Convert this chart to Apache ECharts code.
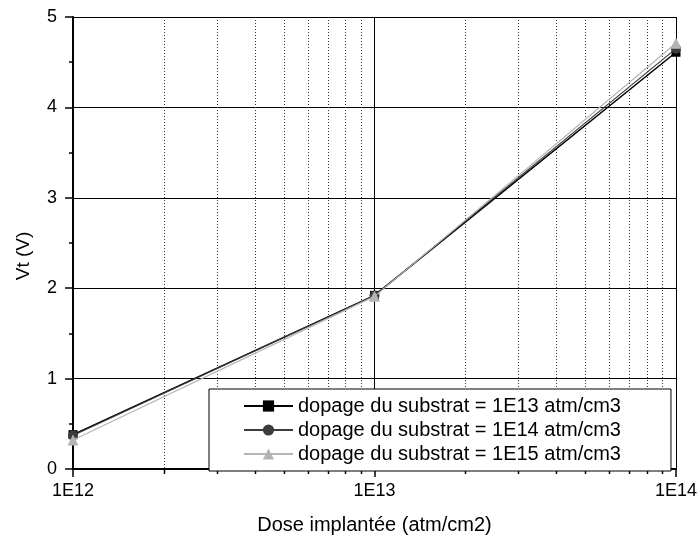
<!DOCTYPE html>
<html>
<head>
<meta charset="utf-8">
<script src="https://cdn.jsdelivr.net/npm/echarts@6/dist/echarts.min.js"></script>
<style>
  html, body { margin: 0; padding: 0; background: #fff; }
  #chart { width: 698px; height: 536px; }
</style>
</head>
<body>
<div id="chart"></div>
<script>
// dose implantee (atm/cm2)
var doses = [1e12, 1e13, 1e14]
// Vt (V) for each substrate doping
var vt13 = [0.38, 1.92, 4.61]
var vt14 = [0.37, 1.92, 4.65]
var vt15 = [0.32, 1.91, 4.71]
var seriesNames = [
  'dopage du substrat = 1E13 atm/cm3',
  'dopage du substrat = 1E14 atm/cm3',
  'dopage du substrat = 1E15 atm/cm3'
]
// minor (dotted) grid positions of the log axis
var decades = [1e12, 1e13]
var minorSteps = [2, 3, 4, 5, 6, 7, 8, 9]

var FONT = 'Liberation Sans, Arial, sans-serif'
var Y_MIN = 0, Y_MAX = 5

function pairs(xs, ys) {
  return xs.map(function (x, i) { return [x, ys[i]] })
}

var minorTicks = []
decades.forEach(function (d) {
  minorSteps.forEach(function (m) { minorTicks.push([d * m]) })
})

var chart = echarts.init(document.getElementById('chart'))

chart.setOption({
  animation: false,
  backgroundColor: '#fff',
  textStyle: { fontFamily: FONT, color: '#000' },
  grid: {
    left: 73,
    right: 22,
    top: 17,
    bottom: 67,
    containLabel: false,
    outerBoundsMode: 'none'
  },
  legend: {
    data: seriesNames,
    orient: 'vertical',
    left: 209,
    top: 389,
    padding: [7, 50, 7, 34],
    itemGap: 4,
    itemWidth: 49,
    itemHeight: 14,
    backgroundColor: '#fff',
    borderColor: '#000',
    borderWidth: 1,
    borderRadius: 0,
    textStyle: { fontFamily: FONT, fontSize: 20, color: '#000' }
  },
  xAxis: {
    type: 'log',
    logBase: 10,
    min: 1e12,
    max: 1e14,
    name: 'Dose implantée (atm/cm2)',
    nameLocation: 'middle',
    nameGap: 46,
    nameTextStyle: { fontFamily: FONT, fontSize: 20, color: '#000' },
    axisLine: { lineStyle: { color: '#000', width: 2 } },
    axisTick: { show: true, inside: false, length: 8, lineStyle: { color: '#000', width: 1.5 } },
    axisLabel: {
      margin: 13,
      fontFamily: FONT,
      fontSize: 18,
      color: '#000',
      formatter: function (v) {
        return '1E' + Math.round(Math.log10(v))
      }
    },
    splitLine: { show: true, lineStyle: { color: '#000', width: 1 } }
  },
  yAxis: {
    type: 'value',
    min: Y_MIN,
    max: Y_MAX,
    interval: 1,
    name: 'Vt (V)',
    nameLocation: 'middle',
    nameGap: 40,
    nameTextStyle: { fontFamily: FONT, fontSize: 19, color: '#000', padding: [0, 0, 0, -26] },
    axisLine: { show: true, lineStyle: { color: '#000', width: 2 } },
    axisTick: { show: true, inside: false, length: 8, lineStyle: { color: '#000', width: 1.5 } },
    minorTick: { show: true, splitNumber: 2, length: 4, lineStyle: { color: '#000', width: 1.5 } },
    axisLabel: { margin: 16, fontFamily: FONT, fontSize: 18, color: '#000' },
    splitLine: { show: true, lineStyle: { color: '#000', width: 1 } }
  },
  series: [
    {
      type: 'custom',
      name: 'minor',
      silent: true,
      z: 1,
      data: minorTicks,
      renderItem: function (params, api) {
        var top = api.coord([api.value(0), Y_MAX])
        var bot = api.coord([api.value(0), Y_MIN])
        var x = Math.round(top[0]) + 0.5
        return {
          type: 'group',
          children: [
            {
              type: 'line',
              shape: { x1: x, y1: top[1], x2: x, y2: bot[1] },
              style: { stroke: '#333', lineWidth: 1, lineDash: [1, 2] }
            },
            {
              type: 'line',
              shape: { x1: x, y1: bot[1], x2: x, y2: bot[1] + 5 },
              style: { stroke: '#000', lineWidth: 1.5 }
            }
          ]
        }
      }
    },
    {
      type: 'line',
      name: seriesNames[0],
      data: pairs(doses, vt13),
      symbol: 'rect',
      symbolSize: 9,
      z: 3,
      itemStyle: { color: '#000' },
      lineStyle: { color: '#000', width: 1.5 }
    },
    {
      type: 'line',
      name: seriesNames[1],
      data: pairs(doses, vt14),
      symbol: 'circle',
      symbolSize: 10,
      z: 4,
      itemStyle: { color: '#3c3c3c' },
      lineStyle: { color: '#3c3c3c', width: 1.2 }
    },
    {
      type: 'line',
      name: seriesNames[2],
      data: pairs(doses, vt15),
      symbol: 'triangle',
      symbolSize: 11,
      z: 5,
      itemStyle: { color: '#b4b4b4' },
      lineStyle: { color: '#b4b4b4', width: 1.2 }
    }
  ]
})
</script>
</body>
</html>
